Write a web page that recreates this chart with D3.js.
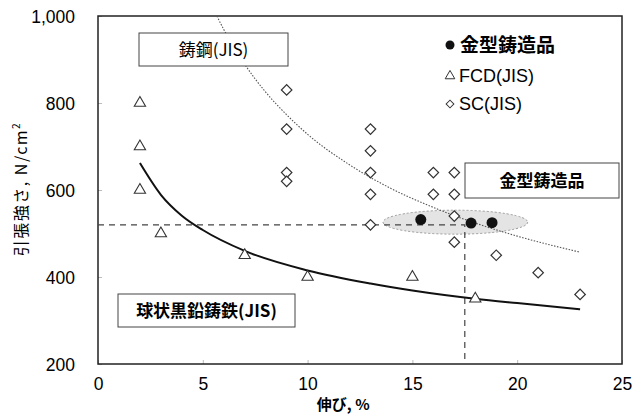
<!DOCTYPE html>
<html>
<head>
<meta charset="utf-8">
<script src="https://cdn.jsdelivr.net/npm/d3@7"></script>
<style>
  body { margin: 0; background: #fff; }
  svg text { font-family: "Liberation Sans", Arial, "Noto Sans CJK JP", sans-serif; fill: #000; }
  .jp { font-family: "Noto Sans CJK JP", sans-serif; }
</style>
</head>
<body>
<div class="chart"></div>
<script>
const WIDTH = 641;
const HEIGHT = 414;
const MARGIN = {top: 16, right: 19, bottom: 50, left: 98};
const INNER_WIDTH = WIDTH - MARGIN.left - MARGIN.right;
const INNER_HEIGHT = HEIGHT - MARGIN.top - MARGIN.bottom;

// 金型鋳造品 (elongation %, tensile N/cm2)
var dieCastX = [15.4, 17.8, 18.8];
var dieCastY = [532, 524, 525];

// FCD(JIS)
var fcdX = [2, 2, 2, 3, 7, 10, 15, 18];
var fcdY = [800, 700, 600, 500, 450, 400, 400, 350];

// SC(JIS)
var scX = [9, 9, 9, 9, 13, 13, 13, 13, 13, 16, 16, 17, 17, 17, 17, 19, 21, 23];
var scY = [830, 740, 640, 620, 740, 690, 640, 590, 520, 640, 590, 640, 590, 540, 480, 450, 410, 360];

// trend lines
var fcdTrendX = [2, 3, 4, 5, 7, 10, 13, 15, 18, 20, 23];
var fcdTrendY = [662, 589, 541, 508, 460, 415, 385, 369, 350, 340, 326];
var scTrendX = [5.67, 6, 7, 8, 9, 10, 12, 14, 16, 18, 20, 23];
var scTrendY = [1000, 969, 889, 825, 773, 728, 658, 603, 560, 524, 494, 457];

// reference lines
var refX = 17.5;
var refY = 520;

var xTicks = [0, 5, 10, 15, 20, 25];
var yTicks = [200, 400, 600, 800, 1000];

var x = d3.scaleLinear().domain([0, 25]).range([0, INNER_WIDTH]);
var y = d3.scaleLinear().domain([200, 1000]).range([INNER_HEIGHT, 0]);

var svg = d3.select('.chart').append('svg')
    .attr('width', WIDTH)
    .attr('height', HEIGHT);
var g = svg.append('g')
    .attr('transform', 'translate(' + MARGIN.left + ',' + MARGIN.top + ')');

function zip(xs, ys) {
    return xs.map(function (v, i) { return {x: v, y: ys[i]}; });
}

// axes
var xAxis = d3.axisBottom(x).tickValues(xTicks).tickSize(-4).tickPadding(14);
var yAxis = d3.axisLeft(y).tickValues(yTicks).tickSize(-4).tickPadding(23)
    .tickFormat(d3.format(','));

var xAxisG = g.append('g').attr('transform', 'translate(0,' + INNER_HEIGHT + ')').call(xAxis);
var yAxisG = g.append('g').call(yAxis);
[xAxisG, yAxisG].forEach(function (a) {
    a.select('.domain').remove();
    a.selectAll('line').attr('stroke', '#bbb');
    a.selectAll('text').attr('font-size', 17.5).attr('fill', '#000')
        .style('font-family', '"Liberation Sans", Arial, sans-serif');
});
yAxisG.selectAll('text').attr('dy', '0.36em');

// frame
g.append('rect')
    .attr('width', INNER_WIDTH)
    .attr('height', INNER_HEIGHT)
    .attr('fill', 'none')
    .attr('stroke', '#222')
    .attr('stroke-width', 1.5);

// axis titles
g.append('text')
    .attr('class', 'jp')
    .attr('transform', 'translate(' + (-71) + ',' + (INNER_HEIGHT / 2 - 1) + ') rotate(-90)')
    .attr('text-anchor', 'middle')
    .attr('font-size', 16)
    .attr('letter-spacing', 1.5)
    .html('引張強さ, N/cm<tspan dy="-7" font-size="10">2</tspan>');

g.append('text')
    .attr('class', 'jp')
    .attr('x', x(11.7))
    .attr('y', INNER_HEIGHT + 46)
    .attr('text-anchor', 'middle')
    .attr('font-size', 15)
    .attr('font-weight', 'bold')
    .text('伸び, %');

// ellipse highlight
g.append('ellipse')
    .attr('cx', x(17.05))
    .attr('cy', y(526))
    .attr('rx', x(3.45) - x(0))
    .attr('ry', 12)
    .attr('fill', '#e4e4e4')
    .attr('stroke', '#999')
    .attr('stroke-dasharray', '2,2');

// reference dashed lines
g.append('path')
    .attr('d', 'M' + x(0) + ',' + y(refY) + 'H' + x(refX) + 'V' + y(200))
    .attr('fill', 'none')
    .attr('stroke', '#444')
    .attr('stroke-width', 1.2)
    .attr('stroke-dasharray', '6,5');

var line = d3.line()
    .x(function (d) { return x(d.x); })
    .y(function (d) { return y(d.y); })
    .curve(d3.curveMonotoneX);

g.append('path')
    .attr('d', line(zip(scTrendX, scTrendY)))
    .attr('fill', 'none')
    .attr('stroke', '#555')
    .attr('stroke-width', 1.1)
    .attr('stroke-dasharray', '1.5,1.5');

g.append('path')
    .attr('d', line(zip(fcdTrendX, fcdTrendY)))
    .attr('fill', 'none')
    .attr('stroke', '#111')
    .attr('stroke-width', 2);

// markers
var tri = d3.symbol().type(d3.symbolTriangle).size(55);
var dia = d3.symbol().type(d3.symbolSquare).size(55);

g.append('g').selectAll('path').data(zip(fcdX, fcdY)).enter().append('path')
    .attr('d', tri)
    .attr('transform', function (d) { return 'translate(' + x(d.x) + ',' + y(d.y) + ')'; })
    .attr('fill', '#fff')
    .attr('stroke', '#333')
    .attr('stroke-width', 1.1);

g.append('g').selectAll('path').data(zip(scX, scY)).enter().append('path')
    .attr('d', dia)
    .attr('transform', function (d) { return 'translate(' + x(d.x) + ',' + y(d.y) + ') rotate(45)'; })
    .attr('fill', '#fff')
    .attr('stroke', '#333')
    .attr('stroke-width', 1.2);

g.append('g').selectAll('circle').data(zip(dieCastX, dieCastY)).enter().append('circle')
    .attr('cx', function (d) { return x(d.x); })
    .attr('cy', function (d) { return y(d.y); })
    .attr('r', 5.5)
    .attr('fill', '#111');

// annotation boxes
function labelBox(x0, y0, w, h, txt, weight) {
    g.append('rect')
        .attr('x', x0).attr('y', y0).attr('width', w).attr('height', h)
        .attr('fill', '#fff').attr('stroke', '#444').attr('stroke-width', 1);
    g.append('text')
        .attr('class', 'jp')
        .attr('x', x0 + w / 2).attr('y', y0 + h / 2 + 6)
        .attr('text-anchor', 'middle')
        .attr('font-size', 17)
        .attr('font-weight', weight)
        .text(txt);
}
labelBox(41, 17, 149, 33, '鋳鋼(JIS)', 'normal');
labelBox(367, 147, 154, 35, '金型鋳造品', 'bold');
labelBox(20, 278, 177, 33, '球状黒鉛鋳鉄(JIS)', 'bold');

// legend
var legend = g.append('g').attr('transform', 'translate(352,29)');
legend.append('circle').attr('cx', 0).attr('cy', 0).attr('r', 4.5).attr('fill', '#111');
legend.append('text').attr('class', 'jp').attr('x', 10).attr('y', 7)
    .attr('font-size', 19).attr('font-weight', 'bold').text('金型鋳造品');
legend.append('path').attr('d', d3.symbol().type(d3.symbolTriangle).size(40))
    .attr('transform', 'translate(0,31)').attr('fill', '#fff').attr('stroke', '#333');
legend.append('text').attr('x', 9).attr('y', 37).attr('font-size', 18).text('FCD(JIS)');
legend.append('path').attr('d', d3.symbol().type(d3.symbolSquare).size(30))
    .attr('transform', 'translate(0,59) rotate(45)').attr('fill', '#fff').attr('stroke', '#333');
legend.append('text').attr('x', 9).attr('y', 65).attr('font-size', 18).text('SC(JIS)');
</script>
</body>
</html>
